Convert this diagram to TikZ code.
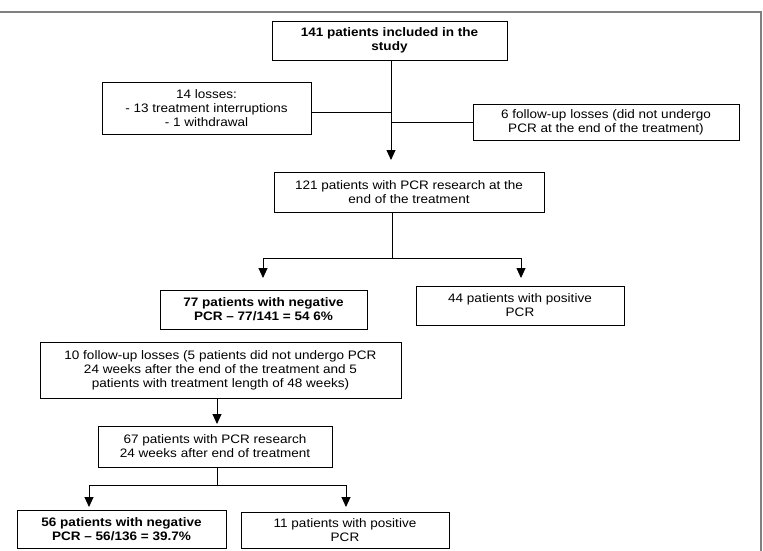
\documentclass[tikz,border=0pt]{standalone}
\usepackage{fontspec}
\setmainfont{Liberation Sans}[FakeStretch=1.1]
\usetikzlibrary{arrows.meta}
\begin{document}
\begin{tikzpicture}[x=1pt,y=-1pt,
  box/.style={draw, line width=0.9pt, inner sep=0pt, align=center, font=\fontsize{12.3}{14}\selectfont},
  bbox/.style={box, font=\fontsize{12.3}{14}\selectfont\bfseries},
  conn/.style={line width=0.9pt},
  arr/.style={conn, -{Triangle[length=10pt,width=9pt]}}]
\useasboundingbox (0,0) rectangle (763,551);
\draw[gray, line width=1.2pt] (0,12) -- (761,12) -- (761,551);

\node[bbox, minimum width=235pt, minimum height=39pt] (b1) at (389.5,40.5) {141 patients included in the\\study};
\node[box, minimum width=209pt, minimum height=52pt] (b14) at (206.5,108) {14 losses:\\- 13 treatment interruptions\\- 1 withdrawal};
\node[box, minimum width=266pt, minimum height=36pt] (b6) at (606,122) {6 follow-up losses (did not undergo\\PCR at the end of the treatment)};
\node[box, minimum width=270pt, minimum height=40pt] (b121) at (409,192) {121 patients with PCR research at the\\end of the treatment};
\node[bbox, minimum width=207pt, minimum height=39pt] (b77) at (263.5,309.5) {77 patients with negative\\PCR -- 77/141 = 54 6\%};
\node[box, minimum width=208pt, minimum height=39pt] (b44) at (520,305.5) {44 patients with positive\\PCR};
\node[box, minimum width=361pt, minimum height=56pt] (b10) at (220.5,370) {10 follow-up losses (5 patients did not undergo PCR\\24 weeks after the end of the treatment and 5\\patients with treatment length of 48 weeks)};
\node[box, minimum width=234pt, minimum height=41pt] (b67) at (215,446.5) {67 patients with PCR research\\24 weeks after end of treatment};
\node[bbox, minimum width=209pt, minimum height=38pt] (b56) at (121.5,529) {56 patients with negative\\PCR -- 56/136 = 39.7\%};
\node[box, minimum width=208pt, minimum height=36pt] (b11) at (345,530) {11 patients with positive\\PCR};

\coordinate (t1) at (391,160);
\coordinate (j1) at (391,112);
\coordinate (j2) at (391,122);
\draw[arr] (b1.south -| t1) -- (t1);
\draw[conn] (b14.east |- j1) -- (j1);
\draw[conn] (j2) -- (b6.west |- j2);

\coordinate (j3) at (392,258);
\coordinate (l1) at (263,258);
\coordinate (r1) at (521,258);
\coordinate (tl1) at (263,278);
\coordinate (tr1) at (521,278);
\draw[conn] (b121.south -| j3) -- (j3);
\draw[conn] (l1) -- (r1);
\draw[arr] (l1) -- (tl1);
\draw[arr] (r1) -- (tr1);

\coordinate (t3) at (217,424);
\draw[arr] (b10.south -| t3) -- (t3);

\coordinate (j4) at (217,485);
\coordinate (l2) at (89,485);
\coordinate (r2) at (346,485);
\coordinate (tl2) at (89,507);
\coordinate (tr2) at (346,507);
\draw[conn] (b67.south -| j4) -- (j4);
\draw[conn] (l2) -- (r2);
\draw[arr] (l2) -- (tl2);
\draw[arr] (r2) -- (tr2);
\end{tikzpicture}
\end{document}
